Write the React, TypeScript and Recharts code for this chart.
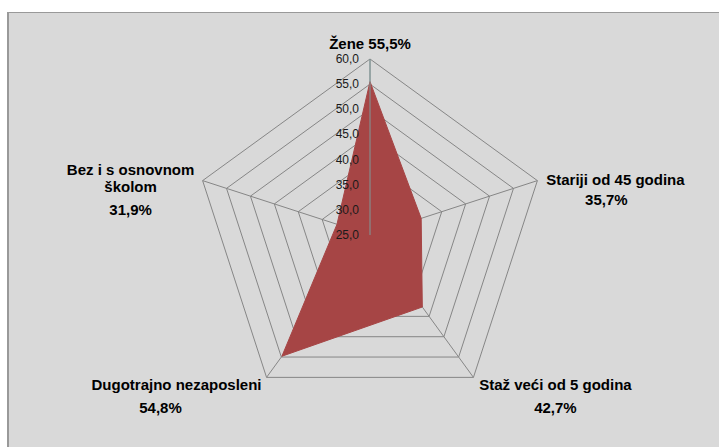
import React from 'react';
import { RadarChart, Radar, PolarGrid, PolarAngleAxis, PolarRadiusAxis } from 'recharts';

const categories = ['Žene', 'Stariji od 45 godina', 'Staž veći od 5 godina', 'Dugotrajno nezaposleni', 'Bez i s osnovnom školom'];
const values = [55.5, 35.7, 42.7, 54.8, 31.9];
const labelLines = [
  ['Žene 55,5%'],
  ['Stariji od 45 godina', '35,7%'],
  ['Staž veći od 5 godina', '42,7%'],
  ['Dugotrajno nezaposleni', '54,8%'],
  ['Bez i s osnovnom', 'školom', '31,9%'],
];
const radiusTicks = [25, 30, 35, 40, 45, 50, 55, 60];
const radiusTickLabels = ['25,0', '30,0', '35,0', '40,0', '45,0', '50,0', '55,0', '60,0'];

const data = categories.map((name, i) => ({ name, value: values[i] }));

// layout offsets (relative to outer vertex) for each label line
const labelOffsets: number[][][] = [
  [[0, -16]],
  [[78, -1], [69, 19]],
  [[82, 7], [82, 30]],
  [[-90, 7], [-106, 30]],
  [[-72, -11], [-72, 6], [-72, 29]],
];

const AngleTick = (props: any) => {
  const { index, cx, cy, radius, payload } = props;
  const angle = payload.coordinate;
  const rad = (-angle * Math.PI) / 180;
  const vx = cx + radius * Math.cos(rad);
  const vy = cy + radius * Math.sin(rad);
  const lines = labelLines[index] || [];
  const offs = labelOffsets[index] || [];
  return (
    <g>
      {lines.map((t, j) => (
        <text
          key={j}
          x={vx + (offs[j] ? offs[j][0] : 0)}
          y={vy + (offs[j] ? offs[j][1] : 0)}
          textAnchor="middle"
          dominantBaseline="central"
          fontFamily="'Liberation Sans', Arial, sans-serif"
          fontWeight="bold"
          fontSize={15}
          fill="#000"
        >
          {t}
        </text>
      ))}
    </g>
  );
};

const RadiusTick = (props: any) => {
  const { x, y, payload } = props;
  const idx = radiusTicks.indexOf(payload.value);
  return (
    <text
      x={x - 11}
      y={y}
      textAnchor="end"
      dominantBaseline="central"
      fontFamily="'Liberation Sans', Arial, sans-serif"
      fontSize={12}
      fill="#1a1a1a"
    >
      {idx >= 0 ? radiusTickLabels[idx] : payload.value}
    </text>
  );
};

export default function App() {
  return (
    <div style={{ position: 'absolute', left: 0, top: 0, width: 719, height: 447, background: '#fff', overflow: 'hidden' }}>
      <div
        style={{
          position: 'absolute',
          left: 7,
          top: 12,
          width: 712,
          height: 435,
          background: '#d9d9d9',
          borderTop: '1px solid #999',
          borderLeft: '2px solid #999',
          boxSizing: 'border-box',
        }}
      />
      <div style={{ position: 'absolute', left: 0, top: 0 }}>
        <RadarChart width={719} height={447} data={data} cx={370} cy={235} outerRadius={176} startAngle={90} endAngle={-270}>
          <PolarGrid gridType="polygon" stroke="#868686" strokeWidth={1} />
          <PolarAngleAxis dataKey="name" tick={<AngleTick />} axisLine={false} tickLine={false} />
          <PolarRadiusAxis
            angle={90}
            domain={[25, 60]}
            ticks={radiusTicks}
            tickCount={8}
            tick={<RadiusTick />}
            axisLine={{ stroke: '#7f9a9a' }}
            tickLine={false}
          />
          <Radar dataKey="value" fill="#a64545" fillOpacity={1} stroke="#a64545" strokeWidth={1} isAnimationActive={false} />
        </RadarChart>
      </div>
    </div>
  );
}
